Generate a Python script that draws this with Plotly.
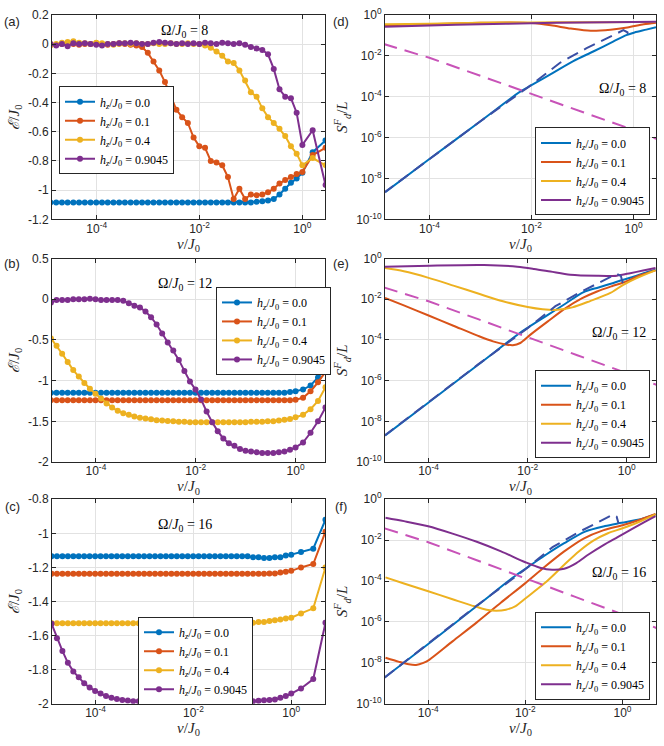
import numpy as np
import plotly.graph_objects as go

# ---------------- data ----------------
HZ_LABELS = ["0.0", "0.1", "0.4", "0.9045"]
COLORS = ["#0072BD", "#D95319", "#EDB120", "#7E2F8E"]
DASH_BLUE = "#3A4FA5"
MAGENTA = "#C853B8"

# sampling grid (log10 v/J0) of the energy panels
V_EXP_BASE = list(np.linspace(-4.9, 0.0, 45))
A_EXTRA = [0.2, 0.45]
B_EXTRA = [0.15, 0.3, 0.45, 0.6]
C_EXTRA = [0.2, 0.45, 0.7]

# ---- panel (a): Omega/J0 = 8 ----
A_BLUE = [-1.085, -1.085, -1.085, -1.085, -1.085, -1.085, -1.085, -1.085, -1.085, -1.085,
          -1.085, -1.085, -1.085, -1.085, -1.085, -1.085, -1.085, -1.085, -1.085, -1.085,
          -1.085, -1.085, -1.085, -1.085, -1.085, -1.085, -1.085, -1.085, -1.085, -1.085,
          -1.085, -1.085, -1.085, -1.085, -1.085, -1.085, -1.08, -1.075, -1.07, -1.06,
          -1.03, -0.99, -0.95, -0.92, -0.88, -0.74, -0.66]
A_RED = [0.0, -0.005, 0.0, 0.005, 0.0, -0.005, 0.0, 0.0, 0.005, 0.0,
         -0.005, 0.0, 0.005, 0.0, -0.005, -0.01, -0.02, -0.06, -0.12, -0.18,
         -0.26, -0.36, -0.45, -0.50, -0.54, -0.64, -0.70, -0.71, -0.80, -0.81,
         -0.83, -0.91, -1.06, -0.99, -1.06, -1.03, -1.035, -1.03, -1.015, -0.99,
         -0.955, -0.93, -0.91, -0.89, -0.875, -0.76, -0.71]
A_YELLOW = [-0.01, 0.0, 0.01, 0.015, 0.02, 0.01, 0.005, 0.0, 0.01, 0.005,
            0.0, -0.005, 0.0, 0.005, 0.0, 0.005, 0.0, 0.0, 0.005, 0.0,
            0.0, 0.005, 0.0, 0.0, 0.005, 0.0, 0.0, -0.01, -0.025, -0.05,
            -0.08, -0.12, -0.13, -0.18, -0.25, -0.33, -0.36, -0.44, -0.50, -0.54,
            -0.58, -0.63, -0.70, -0.75, -0.83, -0.78, -0.83]
A_PURPLE = [0.0, -0.01, 0.0, -0.015, 0.005, 0.0, 0.005, 0.0, -0.005, -0.01,
            0.0, 0.0, 0.005, 0.005, 0.01, 0.005, 0.0, 0.0, 0.01, 0.015,
            0.01, 0.005, 0.0, 0.005, 0.0, 0.005, 0.0, 0.01, 0.005, 0.0,
            0.01, 0.005, 0.0, 0.005, -0.005, -0.02, -0.03, -0.04, -0.07, -0.17,
            -0.31, -0.36, -0.37, -0.47, -0.69, -0.59, -0.965]

# ---- panel (b): Omega/J0 = 12 ----
B_BLUE = [-1.15, -1.15, -1.15, -1.15, -1.15, -1.15, -1.15, -1.15, -1.15, -1.15,
          -1.15, -1.15, -1.15, -1.15, -1.15, -1.15, -1.15, -1.15, -1.15, -1.15,
          -1.15, -1.15, -1.15, -1.15, -1.15, -1.15, -1.15, -1.15, -1.15, -1.15,
          -1.15, -1.15, -1.15, -1.15, -1.15, -1.15, -1.15, -1.15, -1.15, -1.15,
          -1.15, -1.15, -1.15, -1.14, -1.13, -1.11, -1.06, -0.96, -0.84]
B_RED = [-1.24, -1.24, -1.24, -1.24, -1.24, -1.24, -1.24, -1.24, -1.24, -1.24,
         -1.24, -1.24, -1.24, -1.24, -1.24, -1.24, -1.24, -1.24, -1.24, -1.24,
         -1.24, -1.24, -1.24, -1.24, -1.24, -1.24, -1.24, -1.24, -1.24, -1.24,
         -1.24, -1.24, -1.24, -1.24, -1.24, -1.24, -1.24, -1.24, -1.24, -1.24,
         -1.24, -1.24, -1.24, -1.24, -1.235, -1.21, -1.13, -1.02, -0.89]
B_YELLOW = [-0.48, -0.57, -0.67, -0.77, -0.87, -0.95, -1.03, -1.10, -1.16, -1.22,
            -1.28, -1.33, -1.37, -1.40, -1.42, -1.44, -1.455, -1.465, -1.475, -1.485,
            -1.49, -1.495, -1.50, -1.505, -1.505, -1.51, -1.51, -1.51, -1.51, -1.51,
            -1.51, -1.51, -1.51, -1.51, -1.51, -1.51, -1.505, -1.505, -1.505, -1.50,
            -1.50, -1.49, -1.48, -1.47, -1.45, -1.42, -1.35, -1.25, -1.08]
B_PURPLE = [-0.04, -0.01, -0.01, -0.01, 0.0, 0.0, 0.0, 0.005, 0.0, -0.01,
            -0.01, -0.01, -0.01, -0.02, -0.05, -0.08, -0.10, -0.15, -0.22, -0.31,
            -0.42, -0.53, -0.63, -0.745, -0.88, -1.01, -1.11, -1.23, -1.38, -1.51,
            -1.62, -1.71, -1.77, -1.80, -1.84, -1.86, -1.87, -1.88, -1.89, -1.89,
            -1.89, -1.88, -1.87, -1.85, -1.82, -1.76, -1.64, -1.50, -1.33]

# ---- panel (c): Omega/J0 = 16 ----
C_BLUE = [-1.135, -1.135, -1.135, -1.135, -1.135, -1.135, -1.135, -1.135, -1.135, -1.135,
          -1.135, -1.135, -1.135, -1.135, -1.135, -1.135, -1.135, -1.135, -1.135, -1.135,
          -1.135, -1.135, -1.135, -1.135, -1.135, -1.135, -1.135, -1.135, -1.135, -1.135,
          -1.135, -1.135, -1.135, -1.135, -1.135, -1.135, -1.135, -1.14, -1.14, -1.145,
          -1.145, -1.14, -1.14, -1.13, -1.125, -1.11, -1.09, -0.92]
C_RED = [-1.237, -1.237, -1.237, -1.237, -1.237, -1.237, -1.237, -1.237, -1.237, -1.237,
         -1.237, -1.237, -1.237, -1.237, -1.237, -1.237, -1.237, -1.237, -1.237, -1.237,
         -1.237, -1.237, -1.237, -1.237, -1.237, -1.237, -1.237, -1.237, -1.237, -1.237,
         -1.237, -1.237, -1.237, -1.237, -1.237, -1.237, -1.237, -1.237, -1.237, -1.237,
         -1.235, -1.235, -1.23, -1.225, -1.22, -1.20, -1.18, -0.99]
C_YELLOW = [-1.528, -1.528, -1.528, -1.528, -1.528, -1.528, -1.528, -1.528, -1.528, -1.528,
            -1.528, -1.528, -1.528, -1.528, -1.528, -1.528, -1.528, -1.528, -1.528, -1.528,
            -1.528, -1.528, -1.528, -1.528, -1.528, -1.528, -1.528, -1.528, -1.528, -1.528,
            -1.528, -1.528, -1.528, -1.528, -1.528, -1.528, -1.528, -1.525, -1.52, -1.52,
            -1.515, -1.51, -1.505, -1.50, -1.495, -1.47, -1.44, -1.20]
C_PURPLE = [-1.53, -1.615, -1.69, -1.76, -1.81, -1.845, -1.88, -1.905, -1.925, -1.94,
            -1.955, -1.965, -1.972, -1.978, -1.981, -1.985, -1.985, -1.985, -1.985, -1.985,
            -1.985, -1.985, -1.985, -1.985, -1.985, -1.985, -1.985, -1.985, -1.985, -1.985,
            -1.985, -1.985, -1.985, -1.985, -1.985, -1.985, -1.985, -1.985, -1.982, -1.98,
            -1.978, -1.975, -1.965, -1.955, -1.94, -1.91, -1.855, -1.525]

# ---- fidelity panels: (log10 v/J0, log10 S/L) ----
D_BLUE_X = [-4.86, -4.0, -3.0, -2.22, -2.0, -1.57, -1.18, -0.79, -0.40, -0.14, 0.02, 0.25, 0.44]
D_BLUE_Y = [-8.66, -7.05, -5.2, -3.75, -3.44, -2.82, -2.26, -1.79, -1.31, -0.99, -0.86, -0.72, -0.60]
D_RED_X = [-4.87, -4.0, -3.0, -2.4, -2.0, -1.62, -1.23, -0.84, -0.45, -0.12, 0.2, 0.44]
D_RED_Y = [-0.51, -0.46, -0.39, -0.37, -0.40, -0.51, -0.67, -0.78, -0.73, -0.62, -0.46, -0.38]
D_YEL_X = [-4.87, -4.0, -3.0, -2.0, -1.0, 0.0, 0.44]
D_YEL_Y = [-0.46, -0.43, -0.39, -0.37, -0.36, -0.35, -0.35]
D_PUR_X = [-4.87, -4.0, -3.0, -2.0, -1.0, 0.0, 0.44]
D_PUR_Y = [-0.58, -0.52, -0.46, -0.41, -0.37, -0.35, -0.34]

E_BLUE_X = [-4.87, -4.0, -3.0, -2.2, -2.0, -1.6, -1.24, -0.87, -0.57, -0.27, -0.07, 0.15, 0.34, 0.58]
E_BLUE_Y = [-8.68, -7.07, -5.22, -3.73, -3.40, -2.78, -2.22, -1.65, -1.42, -1.2, -1.04, -0.88, -0.72, -0.55]
E_RED_X = [-4.88, -4.5, -4.0, -3.5, -3.0, -2.7, -2.45, -2.3, -2.15, -1.95, -1.6, -1.24, -0.9, -0.6, -0.3, -0.07, 0.27, 0.58]
E_RED_Y = [-1.93, -2.3, -2.8, -3.3, -3.8, -4.07, -4.22, -4.26, -4.15, -3.75, -3.1, -2.45, -1.95, -1.62, -1.36, -1.18, -0.82, -0.58]
E_YEL_X = [-4.88, -4.5, -4.0, -3.5, -3.0, -2.5, -2.0, -1.7, -1.4, -1.1, -0.74, -0.33, -0.07, 0.2, 0.58]
E_YEL_Y = [-0.47, -0.63, -0.95, -1.33, -1.72, -2.1, -2.38, -2.49, -2.52, -2.4, -2.09, -1.69, -1.29, -0.96, -0.58]
E_PUR_X = [-4.88, -3.98, -2.88, -2.21, -1.87, -1.54, -1.14, -0.60, -0.20, 0.07, 0.33, 0.58]
E_PUR_Y = [-0.40, -0.35, -0.32, -0.40, -0.51, -0.64, -0.80, -0.85, -0.84, -0.72, -0.59, -0.47]

F_BLUE_X = [-4.88, -4.0, -3.0, -2.2, -2.0, -1.6, -1.2, -0.77, -0.36, -0.02, 0.39, 0.68]
F_BLUE_Y = [-8.68, -7.08, -5.22, -3.73, -3.40, -2.75, -2.15, -1.58, -1.31, -1.15, -0.96, -0.74]
F_RED_X = [-4.88, -4.6, -4.4, -4.25, -4.1, -3.98, -3.5, -3.0, -2.5, -2.0, -1.6, -1.2, -0.8, -0.4, 0.0, 0.3, 0.68]
F_RED_Y = [-7.75, -7.95, -8.07, -8.1, -8.0, -7.85, -6.95, -6.02, -5.05, -4.1, -3.3, -2.55, -1.92, -1.52, -1.27, -1.05, -0.72]
F_YEL_X = [-4.88, -4.5, -4.0, -3.5, -3.1, -2.8, -2.6, -2.4, -2.2, -2.0, -1.6, -1.2, -0.9, -0.6, -0.3, 0.0, 0.3, 0.68]
F_YEL_Y = [-3.82, -4.12, -4.5, -4.89, -5.2, -5.4, -5.45, -5.4, -5.22, -4.85, -4.1, -3.2, -2.55, -2.02, -1.66, -1.42, -1.15, -0.74]
F_PUR_X = [-4.88, -4.5, -4.0, -3.5, -3.0, -2.5, -2.0, -1.7, -1.45, -1.2, -0.95, -0.7, -0.4, -0.1, 0.2, 0.45, 0.68]
F_PUR_Y = [-0.90, -1.07, -1.32, -1.68, -2.08, -2.55, -3.08, -3.35, -3.45, -3.4, -3.12, -2.7, -2.25, -1.85, -1.45, -1.12, -0.82]

# reference curves (same in the three fidelity panels)
DASH_X = [-4.9, -4.0, -3.0, -2.0, -1.44, -0.92, -0.53, -0.27, -0.2, -0.12, -0.08]
DASH_Y = [-8.72, -7.05, -5.2, -3.42, -2.34, -1.63, -1.15, -0.83, -0.75, -0.85, -1.2]
MAG_X = [-4.9, -4.0, -3.0, -2.2, -1.0, 0.0, 0.7]
MAG_Y = [-1.42, -2.1, -2.98, -3.70, -4.75, -5.63, -6.3]

OMEGAS = ["8", "12", "16"]
X_TICKVALS = [1e-4, 1e-2, 1.0]
X_TICKTEXT = ["10<sup>-4</sup>", "10<sup>-2</sup>", "10<sup>0</sup>"]
Y_LOG_TICKVALS = [1e-10, 1e-8, 1e-6, 1e-4, 1e-2, 1.0]
Y_LOG_TICKTEXT = ["10<sup>-10</sup>", "10<sup>-8</sup>", "10<sup>-6</sup>",
                  "10<sup>-4</sup>", "10<sup>-2</sup>", "10<sup>0</sup>"]
A_YTICKS = [0.2, 0.0, -0.2, -0.4, -0.6, -0.8, -1.0, -1.2]
A_YTEXT = ["0.2", "0", "-0.2", "-0.4", "-0.6", "-0.8", "-1", "-1.2"]
B_YTICKS = [0.5, 0.0, -0.5, -1.0, -1.5, -2.0]
B_YTEXT = ["0.5", "0", "-0.5", "-1", "-1.5", "-2"]
C_YTICKS = [-0.8, -1.0, -1.2, -1.4, -1.6, -1.8, -2.0]
C_YTEXT = ["-0.8", "-1", "-1.2", "-1.4", "-1.6", "-1.8", "-2"]

# ---------------- figure ----------------
W, H = 664, 746
fig = go.Figure()

def px_x(p):
    return p / W

def px_y(p):
    return 1 - p / H

ROWS = [(6, 215), (255, 463), (501, 710)]
LEFT_COL = (52, 325)
RIGHT_COL = (385, 656)
X_RANGES = [[-4.87, 0.44], [-4.88, 0.59], [-4.89, 0.69]]

AX_FONT = dict(family="Liberation Sans, Arial, sans-serif", size=12, color="#262626")
SERIF = "Liberation Serif, Times New Roman, serif"

def legend_name(i):
    return "<i>h<sub>z</sub></i>/<i>J</i><sub>0</sub> = " + HZ_LABELS[i]

left_sets = [
    (A_EXTRA, [A_BLUE, A_RED, A_YELLOW, A_PURPLE]),
    (B_EXTRA, [B_BLUE, B_RED, B_YELLOW, B_PURPLE]),
    (C_EXTRA, [C_BLUE, C_RED, C_YELLOW, C_PURPLE]),
]
right_sets = [
    [(D_BLUE_X, D_BLUE_Y), (D_RED_X, D_RED_Y), (D_YEL_X, D_YEL_Y), (D_PUR_X, D_PUR_Y)],
    [(E_BLUE_X, E_BLUE_Y), (E_RED_X, E_RED_Y), (E_YEL_X, E_YEL_Y), (E_PUR_X, E_PUR_Y)],
    [(F_BLUE_X, F_BLUE_Y), (F_RED_X, F_RED_Y), (F_YEL_X, F_YEL_Y), (F_PUR_X, F_PUR_Y)],
]

# left panels: axes 1..3, right panels: axes 4..6
for r in range(3):
    extra, series = left_sets[r]
    v = 10 ** np.array(V_EXP_BASE + extra)
    ax = r + 1
    leg = "legend" if ax == 1 else f"legend{ax}"
    for i, yv in enumerate(series):
        fig.add_trace(go.Scatter(
            x=v, y=yv, mode="lines+markers", name=legend_name(i),
            line=dict(color=COLORS[i], width=2),
            marker=dict(color=COLORS[i], size=6),
            xaxis=f"x{ax}", yaxis=f"y{ax}", legend=leg))

for r in range(3):
    ax = r + 4
    leg = f"legend{ax}"
    for i, (lx, ly) in enumerate(right_sets[r]):
        fig.add_trace(go.Scatter(
            x=10 ** np.array(lx), y=10 ** np.array(ly), mode="lines",
            name=legend_name(i), line=dict(color=COLORS[i], width=2, shape="spline", smoothing=0.8),
            xaxis=f"x{ax}", yaxis=f"y{ax}", legend=leg))
    fig.add_trace(go.Scatter(
        x=10 ** np.array(DASH_X), y=10 ** np.array(DASH_Y), mode="lines",
        line=dict(color=DASH_BLUE, width=2, dash="12px,7px"), showlegend=False,
        xaxis=f"x{ax}", yaxis=f"y{ax}"))
    fig.add_trace(go.Scatter(
        x=10 ** np.array(MAG_X), y=10 ** np.array(MAG_Y), mode="lines",
        line=dict(color=MAGENTA, width=2, dash="14px,8px"), showlegend=False,
        xaxis=f"x{ax}", yaxis=f"y{ax}"))

common = dict(showline=True, mirror="ticks", linecolor="#262626", linewidth=1,
              ticks="inside", ticklen=4, tickcolor="#262626", showgrid=True,
              gridcolor="#e2e2e2", gridwidth=1, zeroline=False, tickfont=AX_FONT)

xtitle = dict(text="<i>v</i>/<i>J</i><sub>0</sub>", font=dict(family=SERIF, size=15, color="#262626"), standoff=0)
lay = {}
left_yt = [(A_YTICKS, A_YTEXT, [-1.2, 0.2]), (B_YTICKS, B_YTEXT, [-2.0, 0.5]), (C_YTICKS, C_YTEXT, [-2.0, -0.8])]
for r in range(3):
    top, bot = ROWS[r]
    ydom = [px_y(bot), px_y(top)]
    for col in range(2):
        ax = r + 1 + 3 * col
        cx = LEFT_COL if col == 0 else RIGHT_COL
        xdom = [px_x(cx[0]), px_x(cx[1])]
        lay[f"xaxis{ax}"] = dict(domain=xdom, anchor=f"y{ax}", type="log", range=X_RANGES[r],
                                 tickvals=X_TICKVALS, ticktext=X_TICKTEXT, title=xtitle,
                                 ticklabelstandoff=-2, **common)
        if col == 0:
            tv, tt, rg = left_yt[r]
            lay[f"yaxis{ax}"] = dict(domain=ydom, anchor=f"x{ax}", range=rg, tickvals=tv, ticktext=tt,
                                     title=dict(text="<i>ℰ</i>/<i>J</i><sub>0</sub>",
                                                font=dict(family=SERIF, size=15, color="#262626"), standoff=4),
                                     **common)
        else:
            lay[f"yaxis{ax}"] = dict(domain=ydom, anchor=f"x{ax}", type="log", range=[-10, 0],
                                     tickvals=Y_LOG_TICKVALS, ticktext=Y_LOG_TICKTEXT,
                                     title=dict(text="<i>S</i><sup><i>F</i></sup><sub><i>d</i></sub>/<i>L</i>",
                                                font=dict(family=SERIF, size=15, color="#262626"), standoff=4),
                                     **common)

leg_common = dict(bgcolor="white", bordercolor="#262626", borderwidth=1,
                  font=dict(family=SERIF, size=12, color="black"), itemwidth=30,
                  tracegroupgap=0, orientation="v")
legends = {
    "legend": dict(x=px_x(59), y=px_y(124), xanchor="left", yanchor="middle", **leg_common),
    "legend2": dict(x=px_x(216), y=px_y(329), xanchor="left", yanchor="middle", **leg_common),
    "legend3": dict(x=px_x(138), y=px_y(666), xanchor="left", yanchor="middle", **leg_common),
    "legend4": dict(x=px_x(650), y=px_y(211), xanchor="right", yanchor="bottom", **leg_common),
    "legend5": dict(x=px_x(650), y=px_y(459), xanchor="right", yanchor="bottom", **leg_common),
    "legend6": dict(x=px_x(650), y=px_y(706), xanchor="right", yanchor="bottom", **leg_common),
}
lay.update(legends)

annotations = []
for lab, (x, y) in zip(["(a)", "(b)", "(c)", "(d)", "(e)", "(f)"],
                       [(12, 13), (12, 260), (12, 508), (341, 13), (341, 260), (341, 508)]):
    annotations.append(dict(text=lab, x=px_x(x), y=px_y(y), xref="paper", yref="paper",
                            showarrow=False, xanchor="center", yanchor="middle",
                            font=dict(family="Liberation Sans, Arial, sans-serif", size=13, color="#262626")))
for om, (x, y) in zip(OMEGAS, [(184, 23), (185, 282), (185, 528)]):
    annotations.append(dict(text=f"Ω/<i>J</i><sub>0</sub> = {om}", x=px_x(x), y=px_y(y),
                            xref="paper", yref="paper", showarrow=False, xanchor="center", yanchor="middle",
                            font=dict(family=SERIF, size=14, color="black")))
for om, (x, y) in zip(OMEGAS, [(648, 82), (648, 332), (648, 577)]):
    annotations.append(dict(text=f"Ω/<i>J</i><sub>0</sub> = {om}", x=px_x(x), y=px_y(y),
                            xref="paper", yref="paper", showarrow=False, xanchor="right", yanchor="middle",
                            font=dict(family=SERIF, size=14, color="black")))

fig.update_layout(width=W, height=H, margin=dict(l=0, r=0, t=0, b=0),
                  paper_bgcolor="white", plot_bgcolor="white",
                  annotations=annotations, **lay)

fig.write_html("out.html", config={"displayModeBar": False},
               post_script="document.body.style.margin='0px';")
